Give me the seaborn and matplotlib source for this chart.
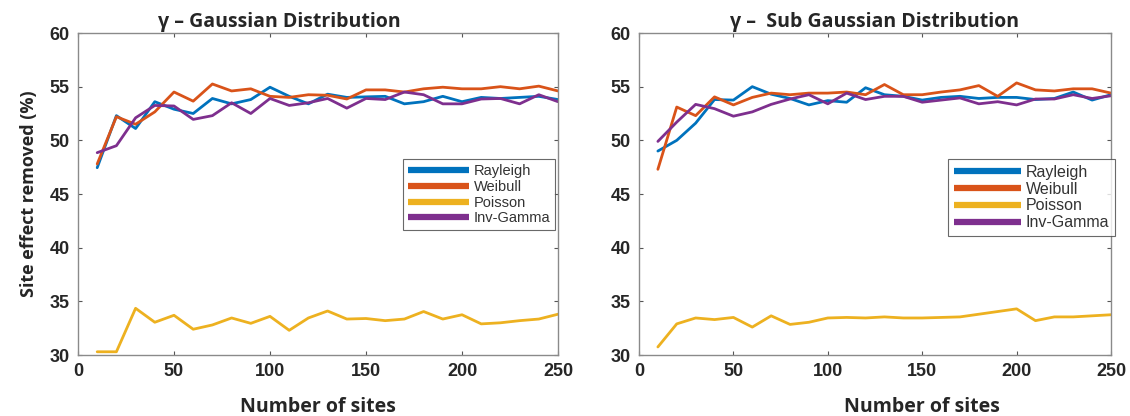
import numpy as np
import pandas as pd
import matplotlib
matplotlib.use("Agg")
import matplotlib.pyplot as plt
import seaborn as sns

sites = [10, 20, 30, 40, 50, 60, 70, 80, 90, 100, 110, 120, 130, 140, 150,
         160, 170, 180, 190, 200, 210, 220, 230, 240, 250]

# Gaussian panel
g_rayleigh = [47.45, 52.3, 51.1, 53.6, 52.9, 52.5, 53.9, 53.4, 53.8, 54.95, 54.1, 53.4, 54.3,
              54.0, 54.05, 54.1, 53.4, 53.6, 54.1, 53.6, 54.0, 53.9, 54.0, 54.1, 53.8]
g_weibull = [47.8, 52.2, 51.5, 52.65, 54.5, 53.65, 55.25, 54.6, 54.8, 54.1, 54.0, 54.25, 54.2,
             53.85, 54.7, 54.7, 54.5, 54.8, 54.95, 54.8, 54.8, 55.0, 54.8, 55.05, 54.6]
g_poisson = [30.3, 30.3, 34.35, 33.05, 33.7, 32.4, 32.8, 33.45, 32.95, 33.6, 32.3, 33.45, 34.1,
             33.35, 33.4, 33.2, 33.35, 34.05, 33.35, 33.75, 32.9, 33.0, 33.2, 33.35, 33.8]
g_invgamma = [48.85, 49.5, 52.1, 53.25, 53.2, 51.95, 52.3, 53.5, 52.5, 53.9, 53.25, 53.5, 53.9,
              53.0, 53.9, 53.8, 54.5, 54.25, 53.4, 53.4, 53.85, 53.9, 53.4, 54.25, 53.6]

# Sub Gaussian panel
s_rayleigh = [49.0, 50.0, 51.6, 53.8, 53.75, 55.0, 54.3, 53.9, 53.3, 53.7, 53.55, 54.9, 54.25,
              54.1, 53.75, 54.0, 54.1, 53.9, 54.0, 54.0, 53.8, 53.9, 54.5, 53.75, 54.25]
s_weibull = [47.3, 53.1, 52.3, 54.05, 53.3, 54.0, 54.4, 54.25, 54.4, 54.4, 54.5, 54.25, 55.2,
             54.25, 54.25, 54.5, 54.7, 55.1, 54.1, 55.35, 54.7, 54.6, 54.8, 54.8, 54.4]
s_poisson = [30.75, 32.9, 33.45, 33.3, 33.5, 32.6, 33.65, 32.85, 33.05, 33.45, 33.5, 33.45, 33.55,
             33.45, 33.45, 33.5, 33.55, 33.8, 34.05, 34.3, 33.2, 33.55, 33.55, 33.65, 33.75]
s_invgamma = [49.9, 51.7, 53.35, 52.95, 52.25, 52.65, 53.35, 53.85, 54.25, 53.4, 54.4, 53.8, 54.1,
              54.1, 53.55, 53.75, 53.95, 53.4, 53.6, 53.3, 53.85, 53.85, 54.25, 53.9, 54.15]

series_names = ["Rayleigh", "Weibull", "Poisson", "Inv-Gamma"]
titles = ["γ – Gaussian Distribution", "γ –  Sub Gaussian Distribution"]
x_ticks = [0, 50, 100, 150, 200, 250]
y_ticks = [30, 35, 40, 45, 50, 55, 60]
colors = ["#0072BD", "#D95319", "#EDB120", "#7E2F8E"]

def make_df(vals):
    frames = []
    for name, v in zip(series_names, vals):
        frames.append(pd.DataFrame({"sites": sites, "value": v, "dist": name}))
    return pd.concat(frames, ignore_index=True)

df_g = make_df([g_rayleigh, g_weibull, g_poisson, g_invgamma])
df_s = make_df([s_rayleigh, s_weibull, s_poisson, s_invgamma])

sns.set_theme(style="white")
plt.rcParams["font.family"] = ["Liberation Sans", "DejaVu Sans"]

fig = plt.figure(figsize=(11.3, 4.16), dpi=100)
ax1 = fig.add_axes([78/1130, 1-355/416, 480/1130, 322/416])
ax2 = fig.add_axes([639/1130, 1-355/416, 472/1130, 322/416])

palette = dict(zip(series_names, colors))
for ax, df, title in [(ax1, df_g, titles[0]), (ax2, df_s, titles[1])]:
    sns.lineplot(data=df, x="sites", y="value", hue="dist", palette=palette,
                 hue_order=series_names, linewidth=2.0, ax=ax, legend=True)
    ax.set_xlim(0, 250)
    ax.set_ylim(30, 60)
    ax.set_xticks(x_ticks)
    ax.set_yticks(y_ticks)
    ax.tick_params(direction="in", length=3, width=0.8, color="#555555",
                   top=True, right=True, bottom=True, left=True,
                   labelsize=13, labelcolor="#262626", pad=6)
    for lab in ax.get_xticklabels() + ax.get_yticklabels():
        lab.set_fontweight("bold")
    for sp in ax.spines.values():
        sp.set_color("#8a8a8a")
        sp.set_linewidth(1.0)
    ax.set_xlabel("Number of sites", fontsize=14, fontweight="bold",
                  family=["Open Sans", "DejaVu Sans"], labelpad=12)
    ax.set_ylabel("")
    ax.set_title(title, fontsize=14, fontweight="bold",
                 family=["Open Sans", "DejaVu Sans"], pad=4)

ax1.title.set_x(0.42)
ax2.xaxis.label.set_x(0.60)
ax1.set_ylabel("Site effect removed (%)", fontsize=13, fontweight="bold",
               family=["Open Sans", "DejaVu Sans"], labelpad=8)

for ax, bbox in [(ax1, (403, 159, 145, 71)), (ax2, (948, 159, 162, 79))]:
    leg = ax.legend(loc="upper left",
                    bbox_to_anchor=(bbox[0]/1130, 1-bbox[1]/416),
                    bbox_transform=fig.transFigure,
                    fontsize=10.5 if ax is ax1 else 11.5, frameon=True, fancybox=False,
                    handlelength=4.2, handletextpad=0.3, labelspacing=0.12,
                    borderpad=0.35, borderaxespad=0)
    leg.get_frame().set_edgecolor("#444444")
    leg.get_frame().set_linewidth(0.8)
    for h in leg.get_lines():
        h.set_linewidth(4.5)
        h.set_solid_capstyle("butt")
    for t in leg.get_texts():
        t.set_color("#333333")

fig.savefig("out.png", dpi=100)
